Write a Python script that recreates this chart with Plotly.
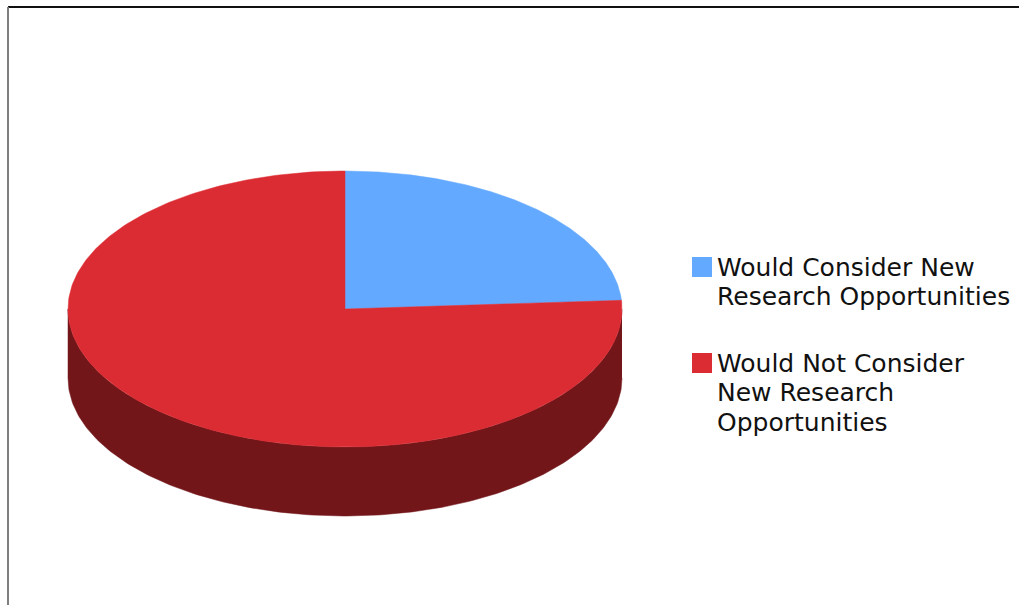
import numpy as np
import plotly.graph_objects as go

# Survey shares
label_lines = [["Would Consider New", "Research Opportunities"],
               ["Would Not Consider", "New Research", "Opportunities"]]
values = [24, 76]
top_colors = ["#62A9FF", "#DC2C33"]
side_colors = ["#3A659A", "#72161A"]

W, H = 1019, 605
CX, CY = 345, 309      # centre of the pie's top face
RX, RY = 277, 138      # ellipse radii of the tilted disc
DEPTH = 69             # thickness of the disc


def rim(t_deg, dy=0.0):
    t = np.radians(t_deg)
    return CX + RX * np.sin(t), CY - RY * np.cos(t) + dy


fig = go.Figure()

total = float(sum(values))
bounds = np.concatenate([[0.0], np.cumsum(values) / total * 360.0])

# Visible front wall of each slice (angles 90..270, measured clockwise from top)
for i in range(len(values)):
    a, b = bounds[i], bounds[i + 1]
    lo, hi = max(a, 90.0), min(b, 270.0)
    if hi <= lo:
        continue
    ts = np.linspace(lo, hi, 200)
    tx, ty = rim(ts)
    bx, by = rim(ts[::-1], DEPTH)
    fig.add_trace(go.Scatter(
        x=np.concatenate([tx, bx]), y=np.concatenate([ty, by]),
        fill="toself", fillcolor=side_colors[i], mode="lines",
        line=dict(width=0.5, color=side_colors[i]),
        hoverinfo="skip", showlegend=False))

# Top faces
for i in range(len(values)):
    a, b = bounds[i], bounds[i + 1]
    ts = np.linspace(a, b, 300)
    ax, ay = rim(ts)
    fig.add_trace(go.Scatter(
        x=np.concatenate([[CX], ax, [CX]]), y=np.concatenate([[CY], ay, [CY]]),
        fill="toself", fillcolor=top_colors[i], mode="lines",
        line=dict(width=0.5, color=top_colors[i]),
        hoverinfo="skip", showlegend=False))

# Legend: coloured squares with wrapped labels
LEG_X, SWATCH = 692, 20
TEXT_X = 715
ITEM_TOP = [257, 353]
LINE_STEP = 29.5
shapes = []
annotations = []
for i, lines in enumerate(label_lines):
    y0 = ITEM_TOP[i]
    shapes.append(dict(type="rect", xref="x", yref="y",
                       x0=LEG_X, x1=LEG_X + SWATCH, y0=y0, y1=y0 + SWATCH,
                       fillcolor=top_colors[i], line=dict(width=0)))
    for k, txt in enumerate(lines):
        annotations.append(dict(
            x=TEXT_X, y=y0 + SWATCH / 2 + k * LINE_STEP, xref="x", yref="y",
            text=txt, showarrow=False, xanchor="left", yanchor="middle",
            font=dict(family="DejaVu Sans", size=25, color="#111111")))

# Frame lines along the top and left edges
shapes += [
    dict(type="line", xref="paper", yref="paper",
         x0=8 / W, x1=1, y0=1 - 7 / H, y1=1 - 7 / H,
         line=dict(color="#111111", width=2)),
    dict(type="line", xref="paper", yref="paper",
         x0=8 / W, x1=8 / W, y0=0, y1=1 - 7 / H,
         line=dict(color="#7F7F7F", width=2)),
]

fig.update_layout(
    width=W, height=H,
    margin=dict(l=0, r=0, t=0, b=0),
    paper_bgcolor="white", plot_bgcolor="white",
    xaxis=dict(range=[0, W], visible=False, fixedrange=True),
    yaxis=dict(range=[H, 0], visible=False, fixedrange=True),
    showlegend=False,
    shapes=shapes,
    annotations=annotations,
)

fig.write_html("out.html")
